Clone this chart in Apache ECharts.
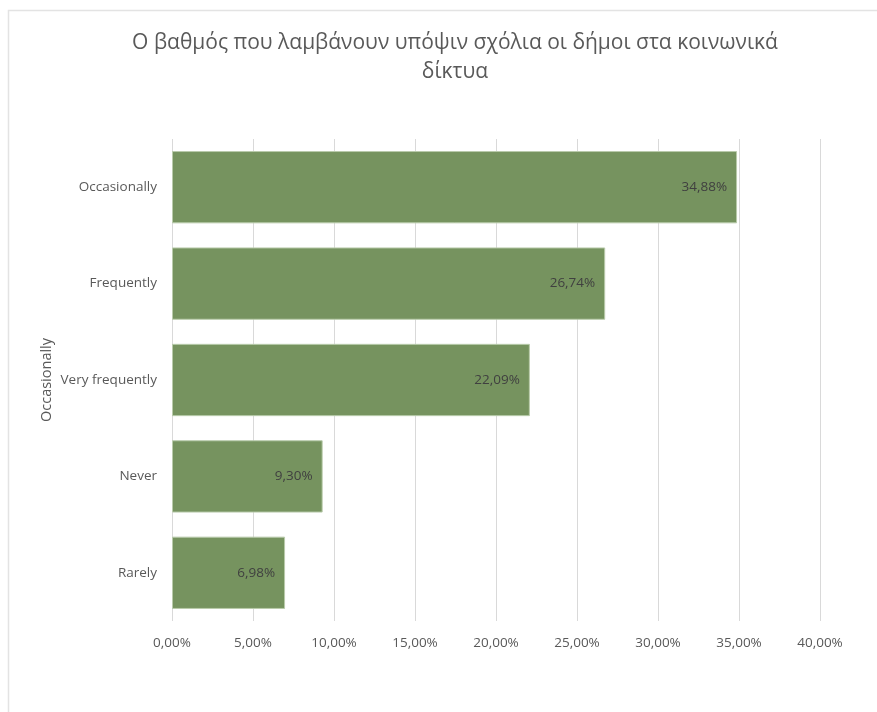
<!DOCTYPE html>
<html>
<head>
<meta charset="utf-8">
<script src="https://cdn.jsdelivr.net/npm/echarts@6/dist/echarts.min.js"></script>
<style>
  html, body { margin: 0; padding: 0; background: #fff; }
  #chart { width: 877px; height: 712px; }
</style>
</head>
<body>
<div id="chart"></div>
<script>
// Responses, ordered top to bottom
const categories = ['Occasionally', 'Frequently', 'Very frequently', 'Never', 'Rarely'];
// Share of municipalities (%)
const shares = [34.88, 26.74, 22.09, 9.30, 6.98];
const titleText = 'Ο βαθμός που λαμβάνουν υπόψιν σχόλια οι δήμοι στα κοινωνικά\nδίκτυα';
const axisTitle = 'Occasionally';

const fmt = v => v.toFixed(2).replace('.', ',') + '%';
const font = 'Open Sans, Noto Sans, sans-serif';

const chart = echarts.init(document.getElementById('chart'), null, { renderer: 'canvas' });
chart.setOption({
  backgroundColor: '#ffffff',
  animation: false,
  graphic: [{
    type: 'rect',
    shape: { x: 8.5, y: 10.5, width: 900, height: 720 },
    style: { fill: 'none', stroke: '#e3e3e3', lineWidth: 1.5 },
    silent: true
  }],
  title: {
    text: titleText,
    left: 450,
    textAlign: 'center',
    top: 24,
    textStyle: {
      fontFamily: font,
      fontSize: 21,
      fontWeight: 'normal',
      color: '#595959',
      lineHeight: 29
    }
  },
  grid: { left: 172, right: 57, top: 139, bottom: 91, containLabel: false },
  xAxis: {
    type: 'value',
    min: 0,
    max: 40,
    interval: 5,
    axisLine: { show: false },
    axisTick: { show: false },
    splitLine: { show: true, lineStyle: { color: '#d9d9d9', width: 1 } },
    axisLabel: {
      formatter: fmt,
      fontFamily: font,
      fontSize: 13.5,
      color: '#595959',
      margin: 15
    }
  },
  yAxis: {
    type: 'category',
    data: categories,
    inverse: true,
    name: axisTitle,
    nameLocation: 'middle',
    nameGap: 118,
    nameMoveOverlap: false,
    nameTextStyle: { fontFamily: font, fontSize: 14.5, color: '#595959' },
    axisLine: { show: false },
    axisTick: { show: false },
    axisLabel: {
      fontFamily: font,
      fontSize: 13.5,
      color: '#595959',
      margin: 15
    }
  },
  series: [{
    type: 'bar',
    data: shares,
    barCategoryGap: '25%',
    itemStyle: { color: '#76935f', borderColor: '#b9cbab', borderWidth: 1 },
    label: {
      show: true,
      position: 'insideRight',
      distance: 10,
      formatter: p => fmt(p.value),
      fontFamily: font,
      fontSize: 13.5,
      color: '#404040'
    }
  }]
});
</script>
</body>
</html>
